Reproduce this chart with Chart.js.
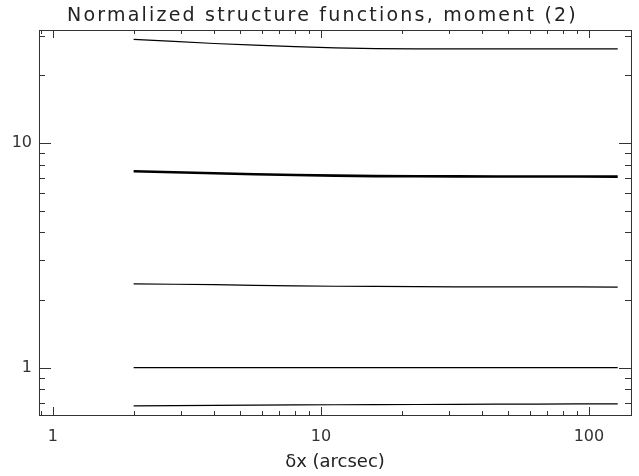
<!DOCTYPE html>
<html>
<head>
<meta charset="utf-8">
<script src="https://cdn.jsdelivr.net/npm/chart.js@4"></script>
<style>
  html, body { margin: 0; padding: 0; background: #fff; }
  #wrap { width: 639px; height: 476px; }
</style>
</head>
<body>
<div id="wrap"><canvas id="sfChart"></canvas></div>
<script>
// lag dx in arcsec
const lags = [2, 4, 8, 16, 32, 64, 128];

// normalized structure functions, one curve per level
const curveTop   = [28.9, 27.7, 26.8, 26.3, 26.2, 26.2, 26.2];
const curveMean  = [7.48, 7.33, 7.20, 7.12, 7.10, 7.09, 7.08];
const curveMid   = [2.36, 2.34, 2.31, 2.30, 2.29, 2.29, 2.285];
const curveUnit  = [1, 1, 1, 1, 1, 1, 1];
const curveLow   = [0.677, 0.680, 0.683, 0.685, 0.687, 0.689, 0.691];

// axis ranges and labelled ticks
const xRange = [0.887, 143.5];
const yRange = [0.616, 31.8];
const xMajor = [1, 10, 100];
const yMajor = [1, 10];

const TITLE = 'Normalized structure functions, moment (2)';
const FONT = 'DejaVu Sans';
const AXIS_COLOR = '#333';

// minor ticks at 2..9 of every decade inside the range
function minorTicks(range, major) {
  const out = [];
  for (let d = 0.1; d <= 1000; d *= 10) {
    for (let k = 1; k <= 9; k++) {
      const v = +(k * d).toPrecision(3);
      if (v >= range[0] && v <= range[1] && !major.includes(v)) out.push(v);
    }
  }
  return out;
}
const xMinor = minorTicks(xRange, xMajor);
const yMinor = minorTicks(yRange, yMajor);

// IDL style box with inward ticks on all four sides, plus the wide-spaced title
const frameTicks = {
  id: 'frameTicks',
  afterDraw(chart) {
    const { ctx, chartArea: a } = chart;
    const sx = chart.scales.x, sy = chart.scales.y;
    ctx.save();
    ctx.strokeStyle = AXIS_COLOR;
    ctx.lineWidth = 1;
    ctx.strokeRect(a.left + 0.5, a.top + 0.5, a.right - a.left, a.bottom - a.top);
    ctx.beginPath();
    const xt = (v, len) => {
      const px = Math.round(sx.getPixelForValue(v)) + 0.5;
      ctx.moveTo(px, a.bottom); ctx.lineTo(px, a.bottom - len);
      ctx.moveTo(px, a.top); ctx.lineTo(px, a.top + len);
    };
    const yt = (v, len) => {
      const py = Math.round(sy.getPixelForValue(v)) + 0.5;
      ctx.moveTo(a.left, py); ctx.lineTo(a.left + len, py);
      ctx.moveTo(a.right, py); ctx.lineTo(a.right - len, py);
    };
    xMajor.forEach(v => xt(v, 8));
    xMinor.forEach(v => xt(v, 4));
    yMajor.forEach(v => yt(v, 12));
    yMinor.forEach(v => yt(v, 6));
    ctx.stroke();

    ctx.fillStyle = '#222';
    ctx.font = '19px "' + FONT + '"';
    ctx.letterSpacing = '2.2px';
    ctx.textAlign = 'center';
    ctx.textBaseline = 'alphabetic';
    ctx.fillText(TITLE, chart.width / 2 + 3, 21);
    ctx.restore();
  }
};

const toPoints = ys => lags.map((x, i) => ({ x: x, y: ys[i] }));
const line = (ys, width) => ({
  data: toPoints(ys),
  borderColor: '#000',
  borderWidth: width,
  pointRadius: 0,
  tension: 0.3,
  fill: false
});

new Chart(document.getElementById('sfChart'), {
  type: 'line',
  data: {
    datasets: [
      line(curveTop, 1.2),
      line(curveMean, 2.6),
      line(curveMid, 1.2),
      line(curveUnit, 1.2),
      line(curveLow, 1.2)
    ]
  },
  options: {
    responsive: true,
    maintainAspectRatio: false,
    animation: false,
    layout: { padding: { left: 0, right: 8, top: 30, bottom: 0 } },
    plugins: {
      legend: { display: false },
      tooltip: { enabled: false },
      title: { display: false }
    },
    scales: {
      x: {
        type: 'logarithmic',
        bounds: 'data',
        min: xRange[0],
        max: xRange[1],
        grid: { display: false, drawTicks: false },
        border: { display: false },
        afterBuildTicks: s => { s.ticks = xMajor.map(v => ({ value: v })); },
        afterFit: s => { s.height = 61; },
        ticks: {
          autoSkip: false,
          maxRotation: 0,
          padding: 12,
          color: AXIS_COLOR,
          font: { family: FONT, size: 16 },
          callback: v => String(v)
        },
        title: {
          display: true,
          text: 'δx (arcsec)',
          color: '#222',
          font: { family: FONT, size: 18, lineHeight: 1.2 },
          padding: { top: 0, bottom: 3 }
        }
      },
      y: {
        type: 'logarithmic',
        bounds: 'data',
        min: yRange[0],
        max: yRange[1],
        grid: { display: false, drawTicks: false },
        border: { display: false },
        afterBuildTicks: s => { s.ticks = yMajor.map(v => ({ value: v })); },
        afterFit: s => { s.width = 39; },
        ticks: {
          autoSkip: false,
          padding: 7,
          color: AXIS_COLOR,
          font: { family: FONT, size: 16 },
          callback: v => String(v)
        }
      }
    }
  },
  plugins: [frameTicks]
});
</script>
</body>
</html>
